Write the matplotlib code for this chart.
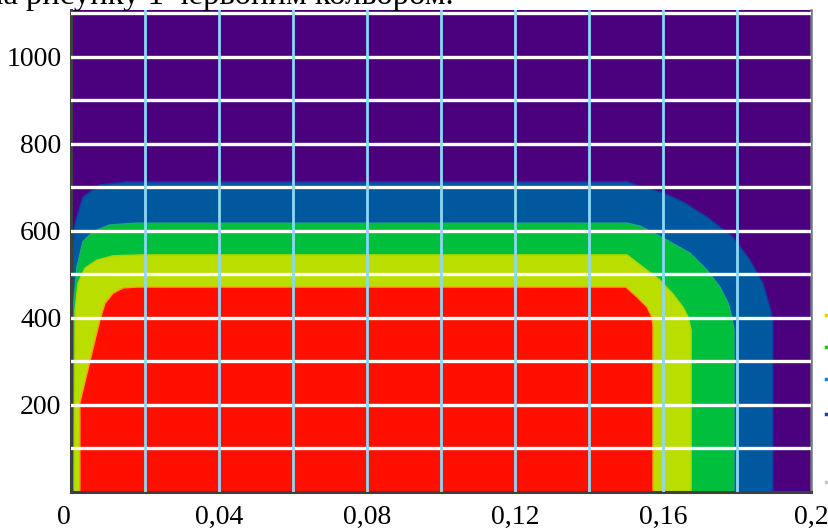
import numpy as np
import matplotlib.pyplot as plt
from matplotlib.lines import Line2D

# isoline boundaries (x, y) of each coloured zone, traced from the bottom-left edge
# over the top and down to the bottom-right edge
blue_x = [0.0004, 0.0004, 0.0011, 0.0032, 0.0078, 0.0151, 0.1503, 0.1545, 0.1600,
          0.1660, 0.1719, 0.1789, 0.1835, 0.1870, 0.1889, 0.1897, 0.1897]
blue_y = [0, 575, 618, 678, 706, 713, 713, 700, 688, 664, 632, 586, 533, 480, 425, 395, 0]

green_x = [0.0007, 0.0008, 0.0016, 0.0032, 0.0059, 0.0105, 0.0178, 0.1503, 0.1538,
           0.1600, 0.1673, 0.1719, 0.1754, 0.1776, 0.1786, 0.1792, 0.1792]
green_y = [0, 441, 517, 575, 598, 614, 618, 618, 611, 584, 549, 510, 471, 434, 402, 372, 0]

yellow_x = [0.0009, 0.0011, 0.0019, 0.0038, 0.0070, 0.0114, 0.0195, 0.1503, 0.1538,
            0.1592, 0.1627, 0.1654, 0.1668, 0.1676, 0.1676]
yellow_y = [0, 418, 480, 515, 533, 543, 545, 545, 522, 487, 455, 425, 402, 372, 0]

red_x = [0.0024, 0.0024, 0.0078, 0.0092, 0.0114, 0.0141, 0.0178, 0.1500, 0.1530,
         0.1557, 0.1570, 0.1573, 0.1573]
red_y = [0, 205, 395, 434, 457, 469, 471, 471, 448, 425, 402, 379, 0]

xticks = [0, 0.04, 0.08, 0.12, 0.16, 0.2]
xlabels = ['0', '0,04', '0,08', '0,12', '0,16', '0,2']
yticks = [200, 400, 600, 800, 1000]

zones = [
    (blue_x, blue_y, '#00589e', '#1438a8'),
    (green_x, green_y, '#00bf3c', '#18b070'),
    (yellow_x, yellow_y, '#bade00', '#a8d800'),
    (red_x, red_y, '#ff0f00', '#ffa000'),
]

plt.rcParams['font.family'] = ['Liberation Serif', 'DejaVu Serif']

fig = plt.figure(figsize=(8.29, 5.28), dpi=100)
ax = fig.add_axes([71/829, 1 - 492/528, 740/829, 482.5/528])
ax.set_facecolor('#4b007e')

for zx, zy, fc, ec in zones:
    ax.fill(zx, zy, facecolor=fc, edgecolor=ec, lw=1.0, zorder=1)

ax.set_xlim(0, 0.2)
ax.set_ylim(0, 1109)

ax.set_xticks(xticks)
ax.set_xticklabels(xlabels)
ax.set_yticks(yticks)
ax.set_yticks(np.arange(100, 1101, 100), minor=True)

# white rules every 100 along y, light-blue rules every 0.02 along x
ax.set_axisbelow(False)
ax.grid(which='both', axis='y', color='white', lw=2.4, zorder=2)
for gx in np.arange(0.02, 0.19, 0.02):
    ax.axvline(gx, color='#8cd8f2', lw=2.0, zorder=3)

ax.tick_params(which='both', length=0, labelsize=20, colors='black')
ax.tick_params(axis='y', pad=7)
ax.tick_params(axis='x', pad=9)
ax.get_xticklabels()[0].set_ha('right')

for side in ['left', 'bottom']:
    ax.spines[side].set_color('#3c4040')
    ax.spines[side].set_linewidth(2.2)
ax.spines['right'].set_color('#6c7c7c')
ax.spines['right'].set_linewidth(1.8)
ax.spines['top'].set_visible(False)

# line of text above the plot and the edge of the key to its right
fig.text(454/829, 1 - 4/528, 'на рисунку 1 червоним кольором.', ha='right',
         va='baseline', fontsize=23.5)
for ky, kc in [(315, '#f0d000'), (347, '#20c020'), (379, '#2080d0'),
               (414, '#2040b0'), (482, '#c8c8c8')]:
    fig.add_artist(Line2D([826/829, 833/829], [1 - ky/528] * 2, color=kc, lw=2.5))

fig.savefig('out.png', dpi=100)
